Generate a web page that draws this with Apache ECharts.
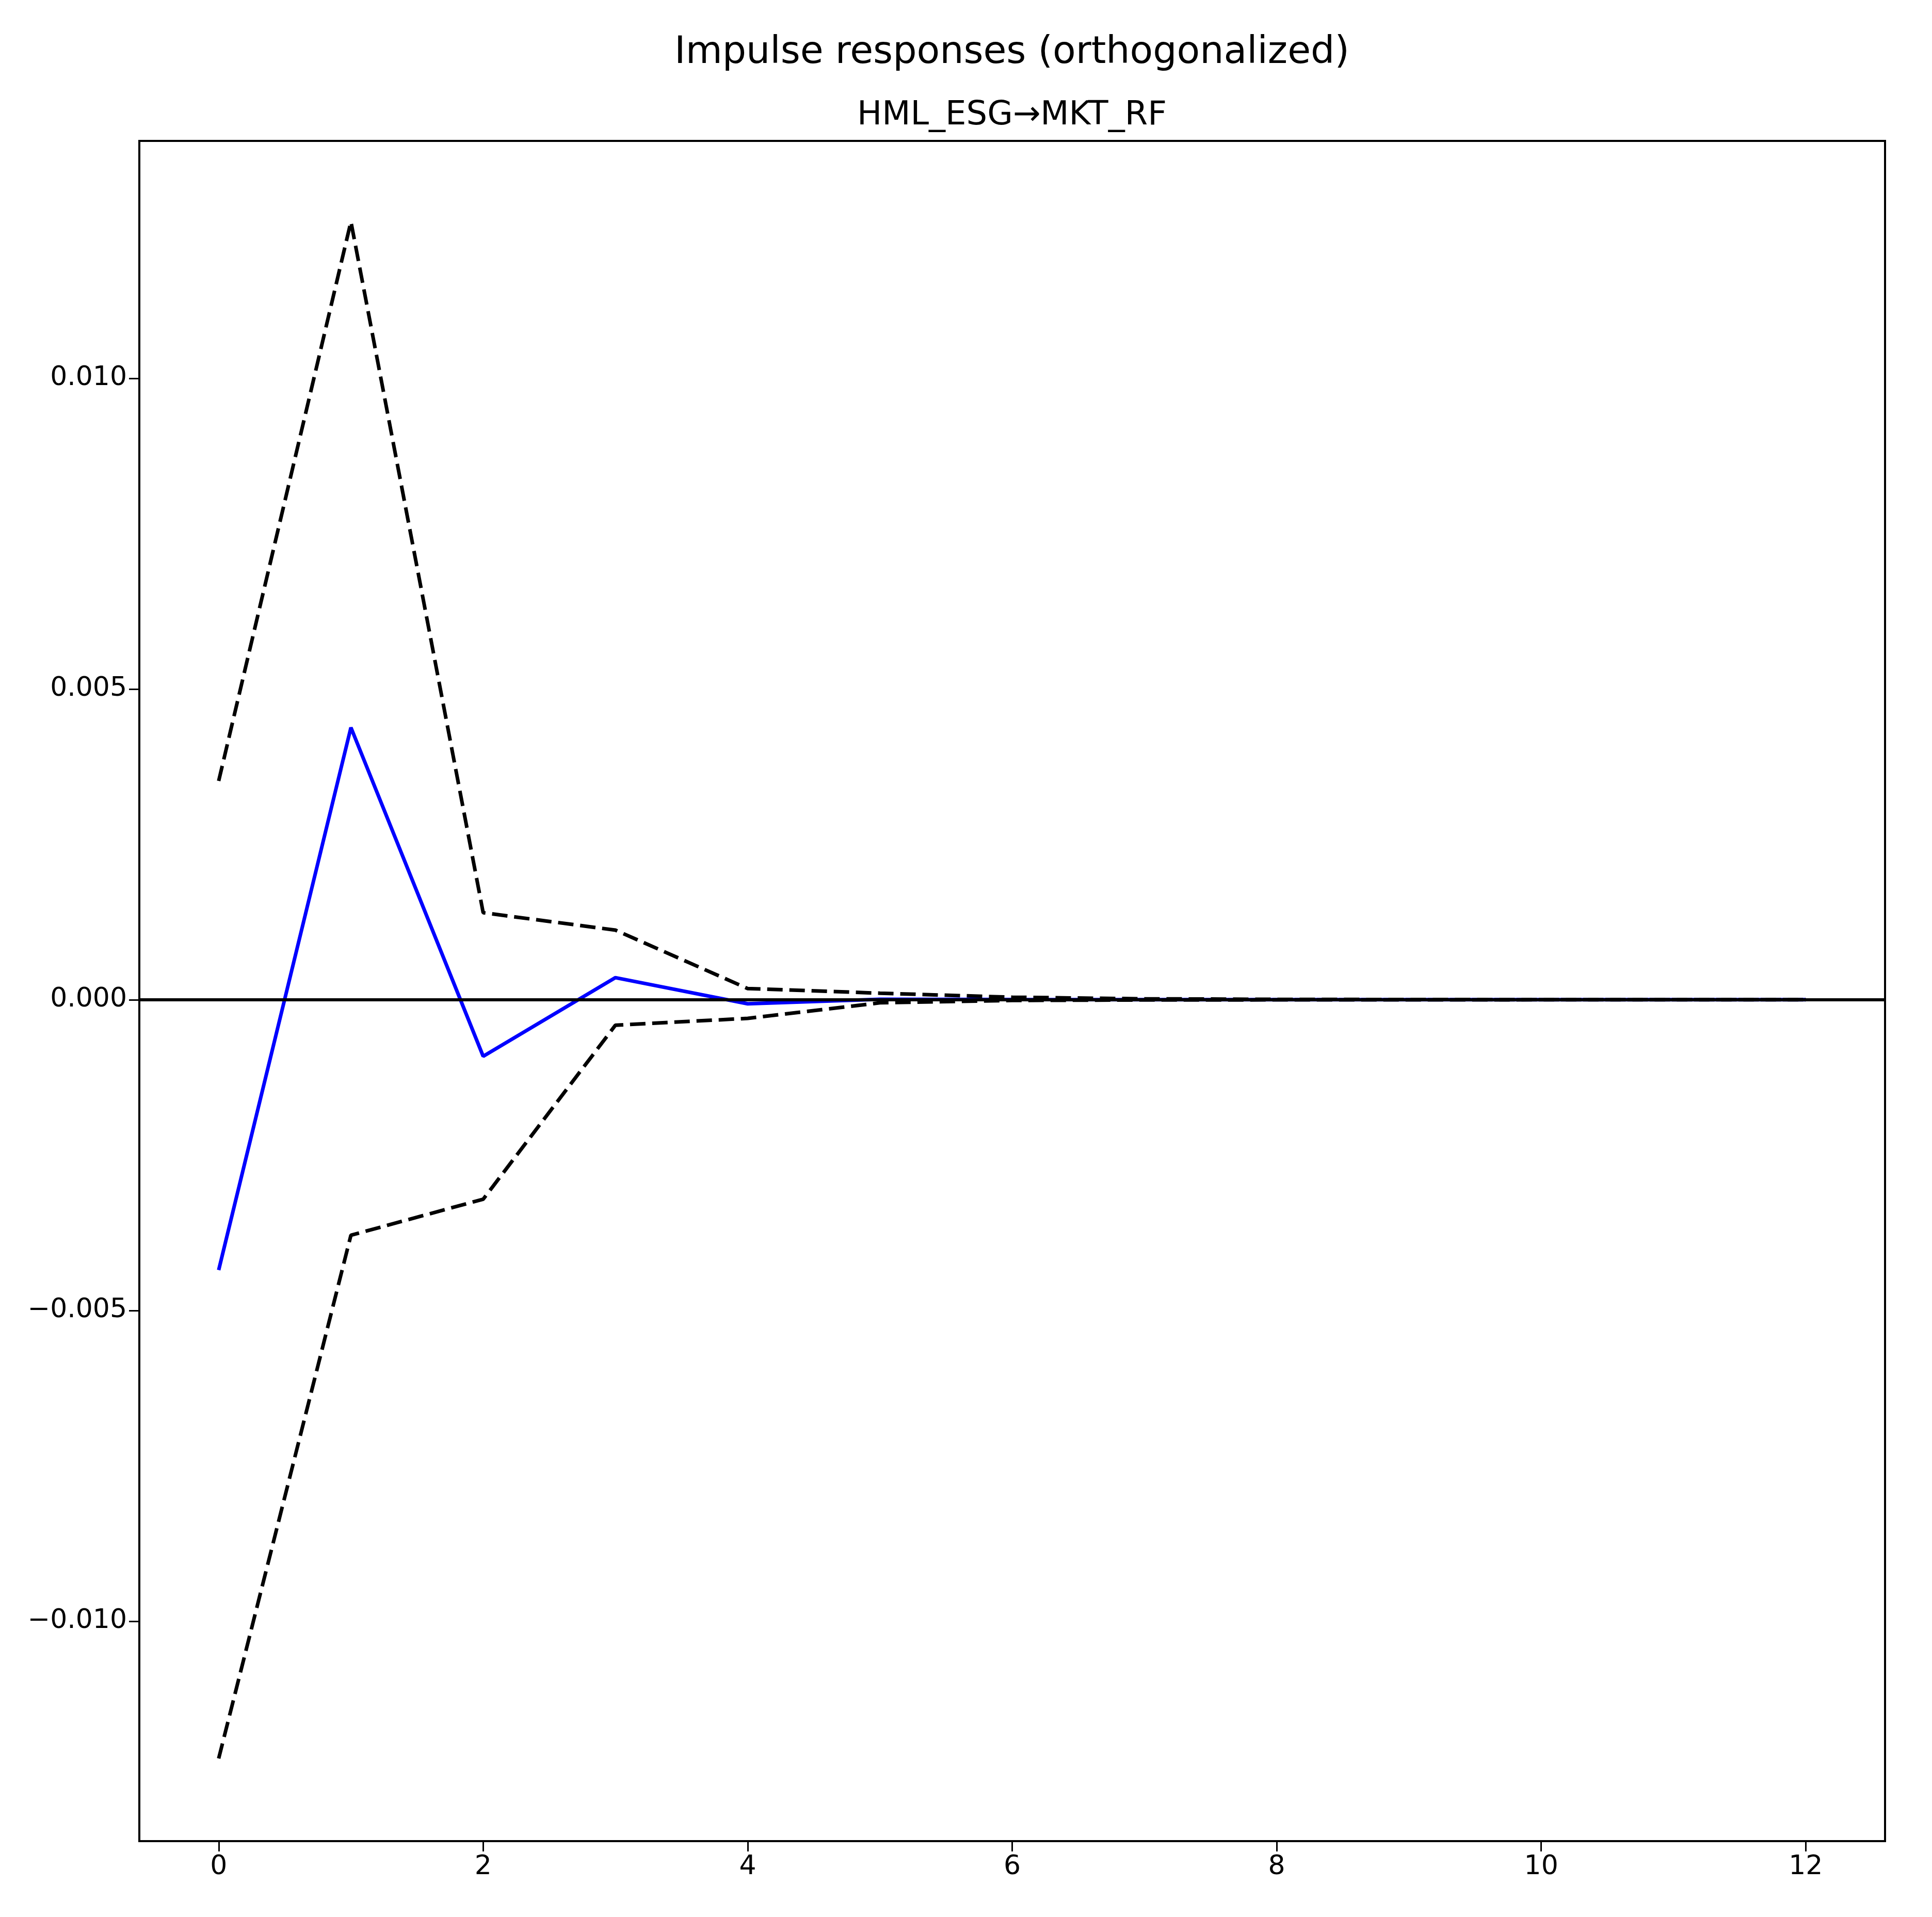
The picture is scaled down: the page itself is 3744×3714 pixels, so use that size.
<!DOCTYPE html>
<html>
<head>
<meta charset="utf-8">
<script src="https://cdn.jsdelivr.net/npm/echarts@6/dist/echarts.min.js"></script>
<style>
html,body{margin:0;padding:0;background:#fff;}
#chart{width:3744px;height:3714px;}
</style>
</head>
<body>
<div id="chart"></div>
<script>
// Data
const periods = [0,1,2,3,4,5,6,7,8,9,10,11,12];
const irf   = [-0.00435, 0.00438, -0.00091, 0.000355, -0.000066, 0.000008, 0.000002, 0.000001, 0, 0, 0, 0, 0];
const upper = [0.00352, 0.01252, 0.0014, 0.00112, 0.00018, 0.000105, 0.00004, 0.000015, 0.000006, 0.000003, 0.000001, 0.000001, 0.000001];
const lower = [-0.01221, -0.00379, -0.00321, -0.00041, -0.0003, -0.00005, -0.000012, -0.000004, -0.000002, -0.000001, 0, 0, 0];
const xTicks = [0,2,4,6,8,10,12];
const yTicks = [-0.010,-0.005,0,0.005,0.010];
const mainTitle = 'Impulse responses (orthogonalized)';
const subTitle = 'HML_ESG\u2192MKT_RF';

const pairs = arr => periods.map((p,i)=>[p,arr[i]]);
const font = 'DejaVu Sans';

const chart = echarts.init(document.getElementById('chart'), null, {renderer:'canvas', devicePixelRatio:1});
chart.setOption({
  animation:false,
  backgroundColor:'#ffffff',
  grid:{left:270,right:91,top:273,bottom:147,show:true,borderColor:'#000',borderWidth:4,backgroundColor:'transparent'},
  graphic:[
    {type:'text',x:1961,y:103,style:{text:mainTitle,fontFamily:font,fontSize:73,fill:'#000',textAlign:'center',textVerticalAlign:'middle'}},
    {type:'text',x:1961,y:224,style:{text:subTitle,fontFamily:font,fontSize:64,fill:'#000',textAlign:'center',textVerticalAlign:'middle'}}
  ],
  xAxis:{
    type:'value',min:-0.6,max:12.6,position:'bottom',
    axisLine:{show:false,onZero:false},
    splitLine:{show:false},
    axisTick:{show:true,length:20,lineStyle:{color:'#000',width:3},customValues:xTicks},
    axisLabel:{show:true,customValues:xTicks,margin:24,fontFamily:font,fontSize:52,color:'#000',formatter:v=>String(v)}
  },
  yAxis:{
    type:'value',min:-0.01354,max:0.01382,position:'left',
    axisLine:{show:false,onZero:false},
    splitLine:{show:false},
    axisTick:{show:true,length:20,lineStyle:{color:'#000',width:3},customValues:yTicks},
    axisLabel:{show:true,customValues:yTicks,margin:24,fontFamily:font,fontSize:52,color:'#000',
      formatter:v=>(v<0?'\u2212':'')+Math.abs(v).toFixed(3)}
  },
  series:[
    {type:'line',data:pairs(upper),symbol:'none',lineStyle:{color:'#000',width:7,type:[30,13]},z:3},
    {type:'line',data:pairs(lower),symbol:'none',lineStyle:{color:'#000',width:7,type:[30,13]},z:3},
    {type:'line',data:pairs(irf),symbol:'none',lineStyle:{color:'#0000ff',width:7},z:2,
      markLine:{silent:true,symbol:'none',label:{show:false},lineStyle:{color:'#000',width:6,type:'solid'},data:[{yAxis:0}],z:4}}
  ]
});
</script>
</body>
</html>
